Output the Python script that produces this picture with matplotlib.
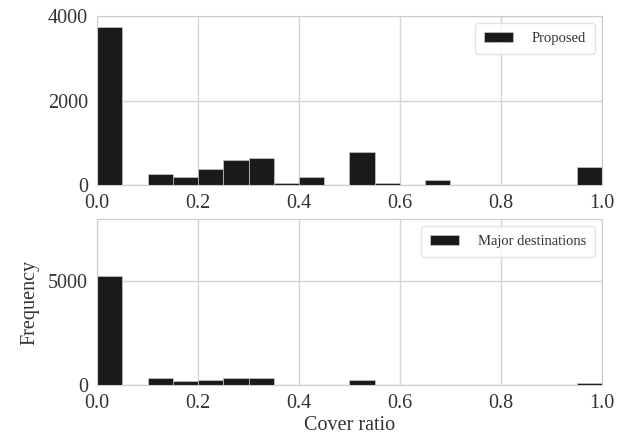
import matplotlib
matplotlib.use('Agg')

import numpy as np
import matplotlib.pyplot as plt
import seaborn as sns

# Histogram counts, 20 bins of width 0.05 on [0, 1]
bin_edges = np.linspace(0.0, 1.0, 21)
proposed = [3740, 0, 258, 201, 370, 603, 651, 40, 201, 0,
            780, 40, 0, 129, 0, 0, 0, 0, 0, 434]
major = [5230, 0, 321, 176, 257, 321, 321, 0, 0, 0,
         257, 0, 0, 0, 0, 0, 0, 0, 0, 70]
xticks = [0.0, 0.2, 0.4, 0.6, 0.8, 1.0]

sns.set_style('whitegrid')
plt.rcParams['font.family'] = ['Liberation Serif', 'DejaVu Serif']

fig = plt.figure(figsize=(6.32, 4.46), dpi=100)
ax1 = fig.add_axes([0.1535, 0.585, 0.799, 0.379])
ax2 = fig.add_axes([0.1535, 0.137, 0.799, 0.372])

centers = (bin_edges[:-1] + bin_edges[1:]) / 2
for ax, counts, label, ylim, yt in [
        (ax1, proposed, 'Proposed', 4000, [0, 2000, 4000]),
        (ax2, major, 'Major destinations', 8000, [0, 5000])]:
    ax.hist(centers, bins=bin_edges, weights=counts, color='#1a1a1a',
            edgecolor='#c8c8c8', linewidth=0.5, label=label)
    ax.set_xlim(0, 1)
    ax.set_ylim(0, ylim)
    ax.set_xticks(xticks)
    ax.set_xticklabels([f'{t:.1f}' for t in xticks])
    ax.set_yticks(yt)
    ax.tick_params(labelsize=14.5, colors='#333333', pad=3)
    for s in ax.spines.values():
        s.set_color('#cccccc')
    ax.grid(color='#d5d5d5', linewidth=1)
    leg = ax.legend(loc='upper right', fontsize=10.5, handlelength=2.0,
                    borderpad=0.6, handletextpad=1.3)
    leg.get_frame().set_edgecolor('#dddddd')
    for t in leg.get_texts():
        t.set_color('#333333')

ax2.set_xlabel('Cover ratio', fontsize=14.5, color='#333333', labelpad=2)
ax2.set_ylabel('Frequency', fontsize=14.5, color='#333333', labelpad=6)

plt.savefig('out.png', dpi=100)
plt.close()
